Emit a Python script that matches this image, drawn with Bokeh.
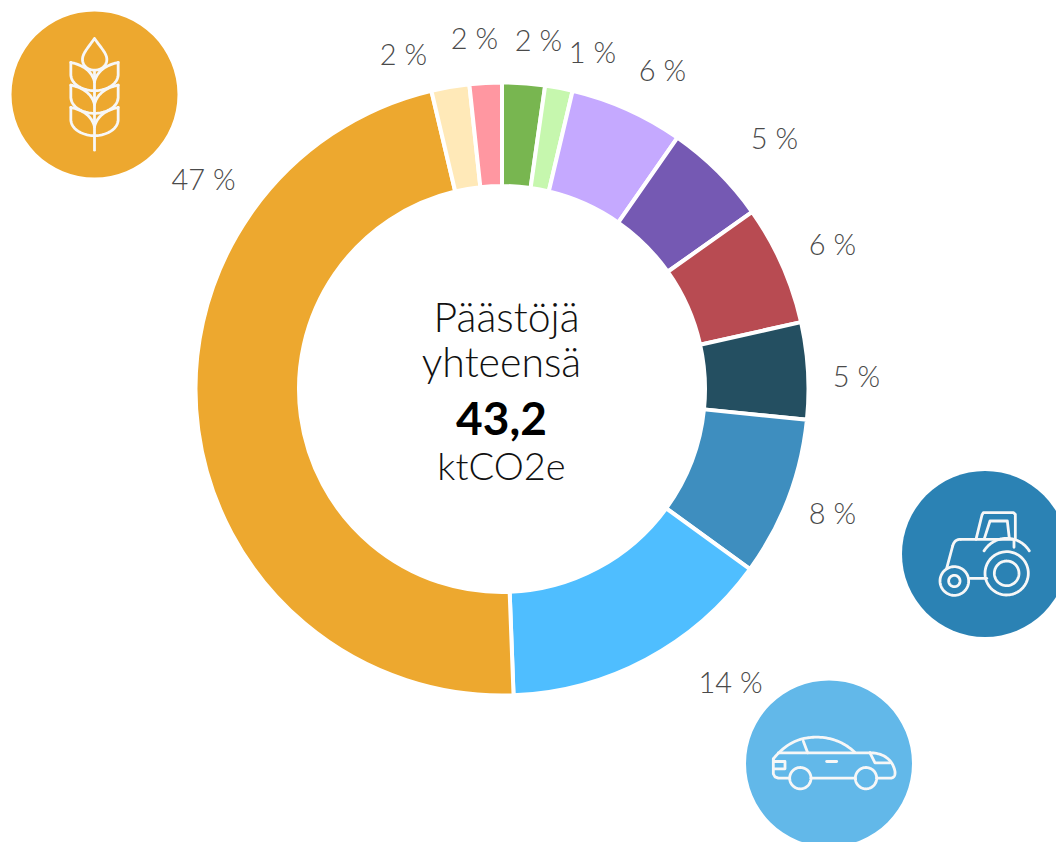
import numpy as np
from bokeh.core.properties import value
from bokeh.embed import file_html
from bokeh.models import ColumnDataSource, Range1d
from bokeh.plotting import figure
from bokeh.resources import INLINE

W, H = 1056, 842

# ---- data: clockwise from 12 o'clock
sectors = ["Sector 1", "Sector 2", "Sector 3", "Sector 4", "Sector 5", "Sector 6",
           "Sector 7", "Sector 8", "Sector 9", "Sector 10", "Sector 11"]
shares = [2.25, 1.45, 6.0, 5.5, 6.3, 5.1, 8.4, 14.4, 46.9, 2.0, 1.7]
colors = ["#78B650", "#C6F7AE", "#C5A9FF", "#7559B3", "#B84B52", "#244F61",
          "#3E8EBF", "#4FBEFF", "#EDA82F", "#FFE9B8", "#FF97A1"]
labels = ["2 %", "1 %", "6 %", "5 %", "6 %", "5 %", "8 %", "14 %", "47 %", "2 %", "2 %"]
label_x = [538, 592, 662, 774, 832, 856, 832, 730, 203, 403, 474]
label_y = [39, 51, 69, 137, 243, 375, 512, 681, 178, 53, 37]

center_lines = ["Päästöjä", "yhteensä", "43,2", "ktCO2e"]

CX, CY = 501.5, 388.5
R_OUT, R_IN = 306.5, 203
ICON_R = 83
GREY = "#4A4A4A"
FONT = "Lato Light"


def sy(v):
    return H - np.asarray(v, dtype=float)


p = figure(width=W, height=H, output_backend="svg", toolbar_location=None,
           x_range=Range1d(0, W), y_range=Range1d(0, H), min_border=0,
           outline_line_color=None, background_fill_color="white", border_fill_color="white",
           x_axis_type=None, y_axis_type=None)
p.grid.visible = False

# ---- donut
frac = np.array(shares) / sum(shares)
edges = np.concatenate([[0], np.cumsum(frac)]) * 2 * np.pi
src = ColumnDataSource(dict(start=np.pi / 2 - edges[:-1], end=np.pi / 2 - edges[1:],
                            color=colors, name=sectors, share=shares))
p.annular_wedge(x=CX, y=sy(CY), inner_radius=R_IN, outer_radius=R_OUT, start_angle="start",
                end_angle="end", direction="clock", fill_color="color", line_color="white",
                line_width=4, source=src)

# ---- percent labels
p.text(x=label_x, y=sy(label_y).tolist(), text=labels, text_font=value(FONT), text_font_size="29px",
       text_color=GREY, text_align="center", text_baseline="middle")

# ---- centre text
p.text(x=[506], y=sy([316]).tolist(), text=[center_lines[0]], text_font=value(FONT), text_font_size="41px",
       text_color="#111111", text_align="center", text_baseline="middle")
p.text(x=[501], y=sy([361]).tolist(), text=[center_lines[1]], text_font=value(FONT), text_font_size="41px",
       text_color="#111111", text_align="center", text_baseline="middle")
p.text(x=[501], y=sy([418]).tolist(), text=[center_lines[2]], text_font=value("Lato"), text_font_style="bold",
       text_font_size="46px", text_color="black", text_align="center", text_baseline="middle")
p.text(x=[501], y=sy([464]).tolist(), text=[center_lines[3]], text_font=value(FONT), text_font_size="38px",
       text_color="#111111", text_align="center", text_baseline="middle")


# ---- icon helpers (geometry given in 3x crop units, relative to the badge centre)
def bez(a, b, c, d, n=24):
    t = np.linspace(0, 1, n)[:, None]
    a, b, c, d = map(np.array, (a, b, c, d))
    return (1 - t) ** 3 * a + 3 * (1 - t) ** 2 * t * b + 3 * (1 - t) * t ** 2 * c + t ** 3 * d


def ring(c, r, a0=0, a1=360, n=72):
    th = np.radians(np.linspace(a0, a1, n))
    return np.column_stack([c[0] + r * np.cos(th), c[1] + r * np.sin(th)])


def draw_icon(cx, cy, color, paths, origin):
    p.circle(x=[cx], y=sy([cy]).tolist(), radius=ICON_R, fill_color=color, line_color=None)
    xs, ys = [], []
    for path in paths:
        a = np.asarray(path, dtype=float)
        xs.append((cx + (a[:, 0] - origin[0]) / 3).tolist())
        ys.append(sy(cy + (a[:, 1] - origin[1]) / 3).tolist())
    p.multi_line(xs, ys, line_color="#F7F7F7", line_width=2.8, line_join="round", line_cap="round")


# wheat
wheat = [[(283, 215), (283, 450)]]
wheat.append(np.vstack([bez((283, 115), (262, 145), (247, 160), (247, 178)),
                        bez((247, 178), (247, 198), (265, 210), (283, 210)),
                        bez((283, 210), (301, 210), (320, 198), (320, 178)),
                        bez((320, 178), (320, 160), (304, 145), (283, 115))]))
for dy in (0, 68, 135):
    for sgn in (-1, 1):
        mx = lambda x: 283 + sgn * x
        wheat.append(bez((mx(71), 187 + dy), (mx(40), 193 + dy), (mx(8), 210 + dy), (mx(0), 245 + dy)))
        wheat.append(np.vstack([
            [(mx(71), 187 + dy), (mx(71), 225 + dy)],
            bez((mx(71), 225 + dy), (mx(68), 255 + dy), (mx(35), 270 + dy), (mx(0), 272 + dy)),
        ]))
draw_icon(94, 94, "#EDA82F", wheat, (283, 283))

# tractor
tractor = [
    ring((350, 340), 65), ring((350, 340), 37), ring((193, 363), 43), ring((193, 363), 17),
    ring((350, 315), 80, 212, 328),
    [(170, 325), (188, 258)], bez((188, 258), (192, 245), (198, 238), (212, 238)),
    [(212, 238), (372, 238), (372, 262)],
    [(240, 355), (290, 355)],
    [(258, 238), (276, 165), (280, 158), (370, 158), (376, 163), (376, 238)],
    [(283, 236), (300, 183), (352, 183), (358, 236)],
]
draw_icon(984.5, 553.5, "#2B82B4", tractor, (285, 282))

# car
car = [
    ring((181, 308), 32), ring((378, 308), 32),
    np.vstack([bez((100, 250), (145, 195), (190, 185), (230, 185)),
               bez((230, 185), (275, 185), (315, 202), (345, 231))]),
    [(213, 308), (346, 308)],
    [(149, 308), (115, 308), (105, 304), (100, 295), (100, 250)],
    np.vstack([[(410, 308), (450, 308)], bez((450, 308), (462, 308), (466, 300), (465, 288)),
               bez((465, 288), (458, 252), (430, 232), (390, 232))]),
    [(115, 232), (390, 232)],
    [(190, 197), (203, 232)],
    [(390, 232), (405, 262), (450, 262)],
    [(260, 258), (290, 258)],
    [(100, 258), (135, 258), (135, 280), (100, 280)],
]
draw_icon(828.5, 763, "#62B8E9", car, (267, 264))

open("out.html", "w").write(file_html(p, INLINE))
